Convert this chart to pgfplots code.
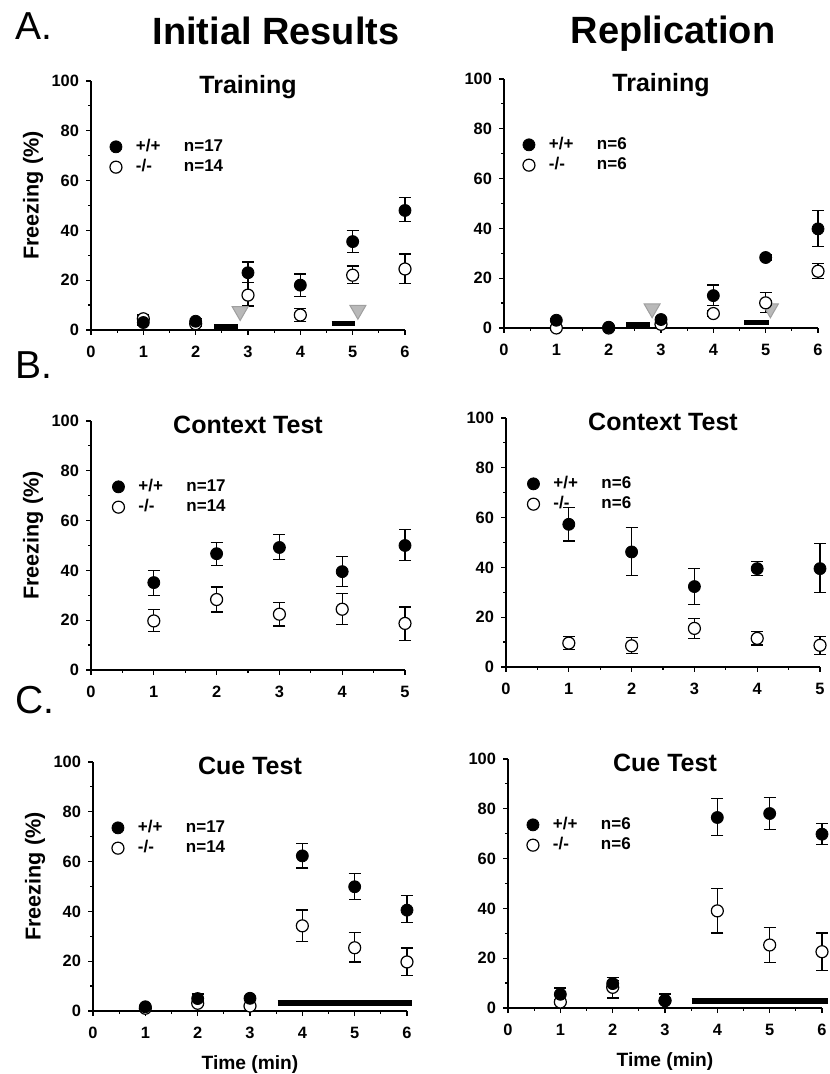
\documentclass[border=0pt]{standalone}
\usepackage{fontspec}
\setmainfont{Liberation Sans}
\usepackage{pgfplots}
\usepackage{pgfplotstable}
\pgfplotsset{compat=1.18}

% Panel A: Training
\pgfplotstableread{
x y ep em
1 3 1 1
2 3.5 1 1
3 23 4.3 4
4 18 4.5 4.5
5 35.5 4.6 4.4
6 48 5.2 4.5
}\ALwt
\pgfplotstableread{
x y ep em
1 4.5 1.5 1.5
2 2.5 1 1
3 14 5 4.4
4 6 2.7 2.5
5 22 3.7 3.3
6 24.5 6 5.9
}\ALko
\pgfplotstableread{
x y ep em
1 3.1 0.5 0.5
2 0.3 0.3 0.3
3 3.4 0.8 0.8
4 13 4.3 4.1
5 28.3 1 1
6 39.8 7.4 7
}\ARwt
\pgfplotstableread{
x y ep em
1 0 0 0
2 0 0 0
3 1.5 0.5 0.5
4 5.8 1 1
5 10.1 4.2 3.9
6 22.8 3.2 2.8
}\ARko
% Panel B: Context test
\pgfplotstableread{
x y ep em
1 35.1 4.8 5.1
2 46.7 4.6 4.7
3 49.2 5.1 4.9
4 39.5 6 5.9
5 50 6.3 6.1
}\BLwt
\pgfplotstableread{
x y ep em
1 19.7 4.6 4.4
2 28.3 5 5
3 22.4 4.8 4.7
4 24.4 6.3 6.1
5 18.7 6.6 6.7
}\BLko
\pgfplotstableread{
x y ep em
1 57.3 6.7 6.7
2 46.2 9.9 9.6
3 32.3 7.2 7.1
4 39.5 2.8 2.7
5 39.5 10 9.6
}\BRwt
\pgfplotstableread{
x y ep em
1 9.6 2.8 2.5
2 8.5 3.2 3.2
3 15.5 4.1 3.9
4 11.5 2.8 2.7
5 8.7 3.7 3.6
}\BRko
% Panel C: Cue test
\pgfplotstableread{
x y ep em
1 1.7 0.5 0.5
2 5 1.8 1.8
3 5.1 0.8 0.8
4 62.3 5.1 4.9
5 49.9 5.2 5.1
6 40.5 5.8 4.9
}\CLwt
\pgfplotstableread{
x y ep em
1 1.1 0.3 0.3
2 3.1 1 1
3 2 0.5 0.5
4 34.2 6.4 6.4
5 25.4 6 5.7
6 19.7 5.6 5.5
}\CLko
\pgfplotstableread{
x y ep em
1 5.5 2.5 2.2
2 9.8 2.6 2.4
3 2.9 2.7 2.7
4 76.5 7.7 7.2
5 78.1 6.4 6.4
6 69.8 4.3 4
}\CRwt
\pgfplotstableread{
x y ep em
1 2.4 0.5 0.5
2 8.3 2.8 4.3
3 3 0.5 0.5
4 39 9.1 8.9
5 25.3 6.9 6.9
6 22.6 7.5 7.4
}\CRko

\pgfplotsset{
  panel/.style={
    scale only axis, width=157pt, height=124.5pt,
    axis x line*=bottom, axis y line*=left,
    xmin=0, ymin=0, ymax=100,
    ytick={0,20,...,100}, minor y tick num=1, minor x tick num=1,
    tick align=outside, major tick length=2.5pt, minor tick length=1.5pt,
    tick style={black, line width=0.6pt},
    axis line style={line width=0.8pt},
    ticklabel style={font=\fontsize{8.2}{9}\selectfont\bfseries},
    xticklabel style={yshift=-2.2pt},
    /pgf/number format/assume math mode=true,
    every axis title/.style={at={(0.5,1)}, anchor=base, yshift=-6.5pt,
      font=\fontsize{12.5}{14}\selectfont\bfseries},
    ylabel style={font=\fontsize{10.8}{12}\selectfont\bfseries, at={(axis description cs:-0.13,0.54)}, anchor=south},
    xlabel style={font=\fontsize{9.6}{11}\selectfont\bfseries, at={(axis description cs:0.5,0)}, anchor=base, yshift=-29pt},
    clip=false,
    legend style={draw=none, fill=none, font=\fontsize{8.5}{9}\selectfont\bfseries,
      at={(axis cs:0.24,80)}, anchor=north west, row sep=-1.5pt},
    legend cell align=left, reverse legend,
  },
  wt/.style={only marks, mark=*, mark size=3pt, black, mark options={fill=black},
    error bars/.cd, y dir=both, y explicit,
    error bar style={line width=0.6pt, black},
    error mark options={rotate=90, mark size=3pt, line width=0.6pt, black}},
  ko/.style={only marks, mark=*, mark size=3pt, black, mark options={fill=white, line width=0.6pt},
    error bars/.cd, y dir=both, y explicit,
    error bar style={line width=0.6pt, black},
    error mark options={rotate=90, mark size=3pt, line width=0.6pt, black}},
  bar/.style={black, line width=2.5pt, forget plot},
  shock/.style={only marks, mark=triangle*, mark size=4.6pt, mark options={rotate=180, fill=gray!55, draw=gray!75, line width=0.5pt}, forget plot},
}
\newcommand{\wtlab}[1]{\hspace*{5pt}\makebox[24pt][l]{+/+}n=#1}
\newcommand{\kolab}[1]{\hspace*{5pt}\makebox[24pt][l]{-/-}n=#1}

\begin{document}
\begin{tikzpicture}
\path[use as bounding box] (0,0) rectangle (414.5pt,537pt);

\node[anchor=base west, font=\fontsize{19.5}{22}\selectfont] at (4pt,517pt) {A.};
\node[anchor=base west, font=\fontsize{19.5}{22}\selectfont] at (4pt,347.5pt) {B.};
\node[anchor=base west, font=\fontsize{19.5}{22}\selectfont] at (4pt,180pt) {C.};
\node[anchor=base, font=\fontsize{19}{22}\selectfont\bfseries] at (138pt,514.5pt) {Initial Results};
\node[anchor=base, font=\fontsize{19}{22}\selectfont\bfseries] at (336.5pt,515pt) {Replication};

% A left
\begin{axis}[panel, at={(45.5pt,372pt)}, anchor=south west, xmax=6, xtick={0,...,6},
  title={Training}, ylabel={Freezing (\%)}]
\addplot[bar] coordinates {(2.35,1.5) (2.8,1.5)};
\addplot[bar] coordinates {(4.6,2.5) (5.05,2.5)};
\addplot[shock] coordinates {(2.85,7.5) (5.1,8)};
\addplot[ko] table[x=x,y=y,y error plus=ep,y error minus=em] {\ALko};
\addlegendentry{\kolab{14}}
\addplot[wt] table[x=x,y=y,y error plus=ep,y error minus=em] {\ALwt};
\addlegendentry{\wtlab{17}}
\end{axis}

% A right
\begin{axis}[panel, at={(252pt,373pt)}, anchor=south west, xmax=6, xtick={0,...,6},
  title={Training}]
\addplot[bar] coordinates {(2.33,1.5) (2.79,1.5)};
\addplot[bar] coordinates {(4.59,2.3) (5.06,2.3)};
\addplot[shock] coordinates {(2.83,7.8) (5.09,7.8)};
\addplot[ko] table[x=x,y=y,y error plus=ep,y error minus=em] {\ARko};
\addlegendentry{\kolab{6}}
\addplot[wt] table[x=x,y=y,y error plus=ep,y error minus=em] {\ARwt};
\addlegendentry{\wtlab{6}}
\end{axis}

% B left
\begin{axis}[panel, at={(45.5pt,202pt)}, anchor=south west, xmax=5, xtick={0,...,5},
  title={Context Test}, ylabel={Freezing (\%)}]
\addplot[ko] table[x=x,y=y,y error plus=ep,y error minus=em] {\BLko};
\addlegendentry{\kolab{14}}
\addplot[wt] table[x=x,y=y,y error plus=ep,y error minus=em] {\BLwt};
\addlegendentry{\wtlab{17}}
\end{axis}

% B right
\begin{axis}[panel, at={(253pt,203.5pt)}, anchor=south west, xmax=5, xtick={0,...,5},
  title={Context Test}]
\addplot[ko] table[x=x,y=y,y error plus=ep,y error minus=em] {\BRko};
\addlegendentry{\kolab{6}}
\addplot[wt] table[x=x,y=y,y error plus=ep,y error minus=em] {\BRwt};
\addlegendentry{\wtlab{6}}
\end{axis}

% C left
\begin{axis}[panel, at={(46.5pt,31.5pt)}, anchor=south west, xmax=6, xtick={0,...,6},
  title={Cue Test}, ylabel={Freezing (\%)}, xlabel={Time (min)}]
\addplot[bar, line width=3pt] coordinates {(3.53,3.1) (6.1,3.1)};
\addplot[ko] table[x=x,y=y,y error plus=ep,y error minus=em] {\CLko};
\addlegendentry{\kolab{14}}
\addplot[wt] table[x=x,y=y,y error plus=ep,y error minus=em] {\CLwt};
\addlegendentry{\wtlab{17}}
\end{axis}

% C right
\begin{axis}[panel, at={(254pt,33pt)}, anchor=south west, xmax=6, xtick={0,...,6},
  title={Cue Test}, xlabel={Time (min)}]
\addplot[bar, line width=3pt] coordinates {(3.51,2.9) (6.11,2.9)};
\addplot[ko] table[x=x,y=y,y error plus=ep,y error minus=em] {\CRko};
\addlegendentry{\kolab{6}}
\addplot[wt] table[x=x,y=y,y error plus=ep,y error minus=em] {\CRwt};
\addlegendentry{\wtlab{6}}
\end{axis}
\end{tikzpicture}
\end{document}
